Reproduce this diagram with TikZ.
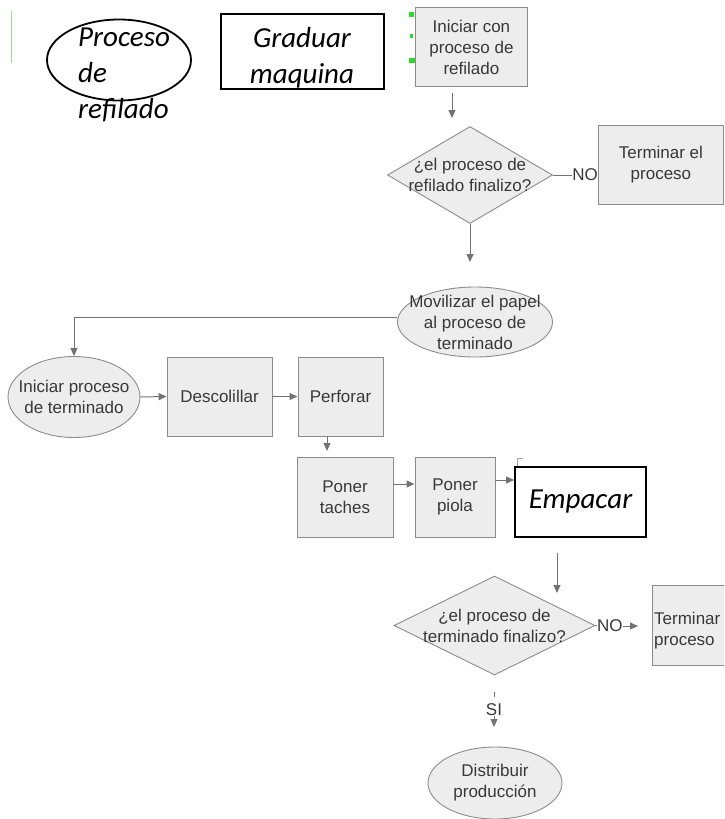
\documentclass[tikz,border=0pt]{standalone}
\usepackage{fontspec}
\usetikzlibrary{shapes.geometric,arrows.meta}
\newfontfamily\libsans{Liberation Sans}
\newfontfamily\carlito{Carlito}
\newcommand\gfont{\libsans\fontsize{17pt}{21pt}\selectfont}
\newcommand\ifont{\carlito\itshape\fontsize{29pt}{36pt}\selectfont}
\definecolor{handle}{RGB}{40,220,40}
\definecolor{guide}{RGB}{150,225,150}
\tikzset{
  gbox/.style={draw=black!45, fill=black!7, line width=0.9pt, inner sep=0pt,
    font=\gfont, text=black!78, align=center},
  gshape/.style={draw=black!45, fill=black!7, line width=0.9pt, inner sep=0pt},
  bbox/.style={draw=black, line width=1.8pt, fill=white, inner sep=0pt},
  gtext/.style={font=\gfont, text=black!78, align=center, inner sep=0pt},
  itext/.style={font=\ifont, text=black, inner sep=0pt},
  flow/.style={draw=black!55, line width=1pt},
  arr/.style={flow, -{Triangle[length=8pt,width=7pt]}},
}
\begin{document}
\begin{tikzpicture}[x=1pt,y=-1pt]
\useasboundingbox (0,0) rectangle (724,819);
\clip (0,0) rectangle (724,819);

% guide line and selection handles
\draw[guide, line width=0.8pt] (11,11) -- (11,63);
\fill[handle] (409,12) rectangle (414,17);
\fill[handle] (410,34) rectangle (413,38);
\fill[handle] (409,58) rectangle (415,63);

% top row
\node[ellipse, draw=black, line width=1.8pt, minimum width=144, minimum height=81, inner sep=0pt] (procE) at (119,60) {};
\node[itext, align=left, anchor=west] (procT) at (78,75) {Proceso\\de\\refilado};
\node[bbox, minimum width=163, minimum height=75, anchor=north west] (grad) at (220,13) {};
\node[itext, align=center] (gradT) at (302,58) {Graduar\\maquina};
\node[gbox, minimum width=112, minimum height=79, anchor=north west] (ini1) at (415,7) {Iniciar con\\proceso de\\refilado};

% first decision
\coordinate (a1s) at (452,93);
\coordinate (a1e) at (452,118);
\draw[arr] (a1s) -- (a1e);
\node[diamond, gshape, minimum width=165, minimum height=97,
  label={[gtext]center:{¿el proceso de\\refilado finalizo?}}] (d1) at (470,175) {};
\node[gbox, minimum width=125, minimum height=79, anchor=north west] (t1) at (598,125) {Terminar el\\proceso};
\node[gtext, anchor=east] (no1) at (t1.west |- d1.east) {NO};
\draw[flow] (d1.east) -- (no1.west);
\coordinate (a2e) at (470,262);
\draw[arr] (d1.south) -- (a2e);

% move to finishing
\node[ellipse, gshape, minimum width=155, minimum height=70,
  label={[gtext]center:{Movilizar el papel\\al proceso de\\terminado}}] (mov) at (475,322) {};
\node[ellipse, gshape, minimum width=132, minimum height=81,
  label={[gtext]center:{Iniciar proceso\\de terminado}}] (ini2) at (74,397) {};
\draw[arr] ([yshift=5pt]mov.west) -| (ini2.north);

% finishing steps
\node[gbox, minimum width=105, minimum height=79] (desc) at (219.5,396.5) {Descolillar};
\node[gbox, minimum width=85, minimum height=79] (perf) at (340.5,396.5) {Perforar};
\draw[arr] (ini2.east) -- (desc.west);
\draw[arr] (desc.east) -- (perf.west);
\coordinate (a3e) at (327,451);
\draw[arr] (perf.south -| a3e) -- (a3e);
\node[gbox, minimum width=96, minimum height=80] (tach) at (345,497) {Poner\\taches};
\node[gbox, minimum width=80, minimum height=80] (piola) at (455,497) {Poner\\piola};
\draw[arr] ([yshift=13pt]tach.east) -- ([yshift=13pt]tach.east -| piola.west);
\draw[black!35, line width=0.6pt] (517,466) -- (517,458) -- (523,458);
\node[bbox, itext, minimum width=131, minimum height=70] (emp) at (580.5,502) {Empacar};
\draw[arr] ([yshift=17pt]piola.east) -- ([yshift=17pt]piola.east -| emp.west);

% second decision
\coordinate (a4s) at (557,553);
\coordinate (a4e) at (557,593);
\draw[arr] (a4s) -- (a4e);
\node[diamond, gshape, minimum width=201, minimum height=99,
  label={[gtext]center:{¿el proceso de\\terminado finalizo?}}] (d2) at (494.5,625.5) {};
\node[gtext, anchor=west] (no2) at (597,626) {NO};
\draw[flow] (d2.east) -- (no2.west);
\coordinate (a5e) at (638,626);
\draw[arr] (no2.east) -- (a5e);
\node[gshape, minimum width=125, minimum height=80, anchor=north west] (t2) at (652,585) {};
\node[gtext, align=left, anchor=west] (t2T) at (654,631) {Terminar el\\proceso};

% yes branch
\coordinate (s1) at (494,692);
\coordinate (s1b) at (494,697);
\draw[flow] (s1) -- (s1b);
\node[gtext] (si) at (494,710) {SI};
\coordinate (s2) at (494,727);
\draw[arr] (si.south) -- (s2);
\node[ellipse, gshape, minimum width=134, minimum height=72,
  label={[gtext]center:{Distribuir\\producción}}] (dist) at (495,783) {};
\end{tikzpicture}
\end{document}
